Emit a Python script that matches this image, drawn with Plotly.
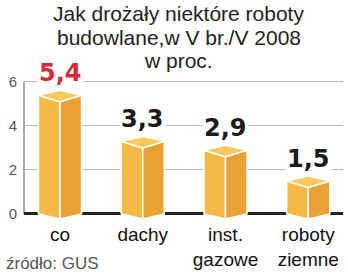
import plotly.graph_objects as go

categories = ["co", "dachy", "inst.<br>gazowe", "roboty<br>ziemne"]
values = [5.4, 3.3, 2.9, 1.5]
value_labels = ["5,4", "3,3", "2,9", "1,5"]
label_colors = ["#d7283c", "#1a1a1a", "#1a1a1a", "#1a1a1a"]
y_ticks = [0, 2, 4, 6]
title_lines = ["Jak drożały niektóre roboty", "budowlane,w V br./V 2008", "w proc."]
source = "źródło: GUS"

W = 0.26    # half width of bar in category units
D = 0.30    # front-corner drop (perspective)
B = 0.22    # back-corner rise

xs_l, ys_l, xs_r, ys_r, xs_t, ys_t = [], [], [], [], [], []
for i, v in enumerate(values):
    c = i
    xs_l += [c - W, c, c, c - W, c - W, None]
    ys_l += [v, v - D, -D * 0.75, 0, v, None]
    xs_r += [c, c + W, c + W, c, c, None]
    ys_r += [v - D, v, 0, -D * 0.75, v - D, None]
    xs_t += [c - W, c, c + W, c, c - W, None]
    ys_t += [v, v + B, v, v - D, v, None]

fig = go.Figure()
edge = dict(color="white", width=1.5)
fig.add_trace(go.Scatter(x=xs_l, y=ys_l, fill="toself", fillcolor="#f6b944",
                         line=edge, mode="lines", hoverinfo="skip"))
fig.add_trace(go.Scatter(x=xs_r, y=ys_r, fill="toself", fillcolor="#e9a133",
                         line=edge, mode="lines", hoverinfo="skip"))
fig.add_trace(go.Scatter(x=xs_t, y=ys_t, fill="toself", fillcolor="#f9c95f",
                         line=edge, mode="lines", hoverinfo="skip"))

for i, (v, t, col) in enumerate(zip(values, value_labels, label_colors)):
    fig.add_annotation(x=i, y=v, text=t, showarrow=False, yanchor="middle", yshift=22,
                       font=dict(family="DejaVu Sans", size=24, color=col, weight="bold"),
                       bgcolor="white", borderpad=1)

title_y = [1.45, 1.285, 1.125]
for t, yy in zip(title_lines, title_y):
    fig.add_annotation(x=0.485, y=yy, xref="paper", yref="paper", text=t, showarrow=False,
                       xanchor="center", yanchor="middle",
                       font=dict(family="Liberation Sans", size=21, color="#222"))

fig.add_annotation(x=-20/319, y=-0.295, xref="paper", yref="paper", text=source,
                   showarrow=False, xanchor="left", yanchor="middle",
                   font=dict(family="Liberation Sans", size=17, color="#555"))

# vertical axis line from 0 to 6
fig.add_shape(type="line", xref="paper", x0=0, x1=0, yref="y", y0=0, y1=max(y_ticks),
              line=dict(color="#555", width=1), layer="below")

fig.update_layout(
    width=348, height=275,
    margin=dict(l=24, r=5, t=78, b=51),
    plot_bgcolor="white", paper_bgcolor="white",
    showlegend=False,
    xaxis=dict(range=[-0.435, 3.42], tickvals=list(range(len(categories))),
               ticktext=categories, showgrid=False, zeroline=False, showline=False,
               tickfont=dict(family="Liberation Sans", size=19, color="#111"),
               ticks="", fixedrange=True),
    yaxis=dict(range=[-0.32, 6.18], tickvals=y_ticks, showgrid=True, gridcolor="#bbb",
               gridwidth=1, zeroline=True, zerolinecolor="#222", zerolinewidth=2.5,
               showline=False, ticks="", ticklabelstandoff=6,
               tickfont=dict(family="Liberation Sans", size=15, color="#555")),
)

fig.write_html("out.html")
